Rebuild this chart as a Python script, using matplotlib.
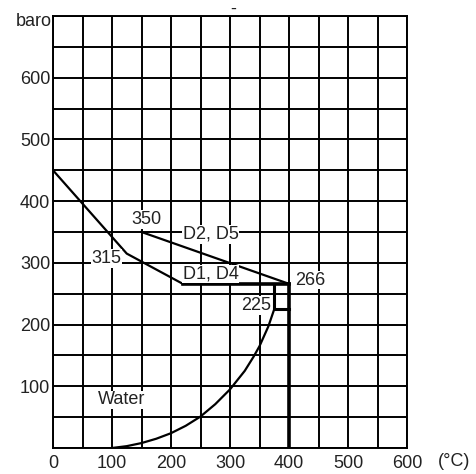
import matplotlib
matplotlib.use("Agg")
import matplotlib.pyplot as plt

plt.rcParams['font.family'] = ['Liberation Sans', 'DejaVu Sans']

# pressure / temperature limit lines (T in degC, p in bar)
d2_t = [150, 400]
d2_p = [350, 266]

d1_t = [0, 125, 220]
d1_p = [450, 315, 266]

flat_t = [220, 400]
flat_p = [266, 266]

drop_t = [400, 400]
drop_p = [266, 0]

box_t = [375, 375, 400]
box_p = [266, 225, 225]

# water curve
water_t = [100, 125, 150, 175, 200, 225, 250, 275, 300, 325, 340, 350, 365, 375]
water_p = [0, 3, 8, 15, 24, 36, 51, 71, 95, 125, 148, 165, 197, 225]

x_ticks = [0, 100, 200, 300, 400, 500, 600]
y_ticks = [100, 200, 300, 400, 500, 600]

fig = plt.figure(figsize=(4.76, 4.74), dpi=100)
ax = fig.add_axes([53 / 476, 1 - 448 / 474, 354 / 476, 432 / 474])

ax.set_xlim(0, 600)
ax.set_ylim(0, 700)
ax.set_xticks(range(0, 601, 50))
ax.set_yticks(range(0, 701, 50))
ax.grid(True, color='black', linewidth=1.4)
ax.set_axisbelow(True)
ax.set_xticklabels([str(v) if v in x_ticks else '' for v in range(0, 601, 50)])
ax.set_yticklabels([str(v) if v in y_ticks else '' for v in range(0, 701, 50)])
ax.tick_params(length=0, labelsize=13, colors='#222222')
ax.tick_params(axis='x', pad=5)
ax.tick_params(axis='y', pad=2)
for s in ax.spines.values():
    s.set_linewidth(1.4)

lw = 1.6
ax.plot(d1_t, d1_p, color='black', lw=lw)
ax.plot(d2_t, d2_p, color='black', lw=lw)
ax.plot(flat_t, flat_p, color='black', lw=2.6)
ax.plot(drop_t, drop_p, color='black', lw=2.6)
ax.plot(box_t, box_p, color='black', lw=2.2)
ax.plot(water_t, water_p, color='black', lw=lw)

bb = dict(facecolor='white', edgecolor='none', pad=0.5)
fs = 13
tc = '#222222'
ax.text(159, 370, '350', ha='center', va='center', fontsize=fs, color=tc, bbox=bb)
ax.text(91, 307, '315', ha='center', va='center', fontsize=fs, color=tc, bbox=bb)
ax.text(220, 346, 'D2, D5', ha='left', va='center', fontsize=fs, color=tc, bbox=bb)
ax.text(220, 282, 'D1, D4', ha='left', va='center', fontsize=fs, color=tc, bbox=bb)
ax.text(410, 272, '266', ha='left', va='center', fontsize=fs, color=tc, bbox=bb)
ax.text(369, 231, '225', ha='right', va='center', fontsize=fs, color=tc, bbox=bb)
ax.text(117, 78, 'Water', ha='center', va='center', fontsize=fs, color=tc, bbox=bb)

fig.text(52 / 476, 1 - 22 / 474, 'baro', ha='right', va='center', fontsize=fs, color=tc)
fig.text(438 / 476, 1 - 462 / 474, '(°C)', ha='left', va='center', fontsize=fs, color=tc)
fig.text(233 / 476, 1 - 9 / 474, '-', ha='center', va='center', fontsize=fs, color=tc)

fig.savefig('out.png', dpi=100)
